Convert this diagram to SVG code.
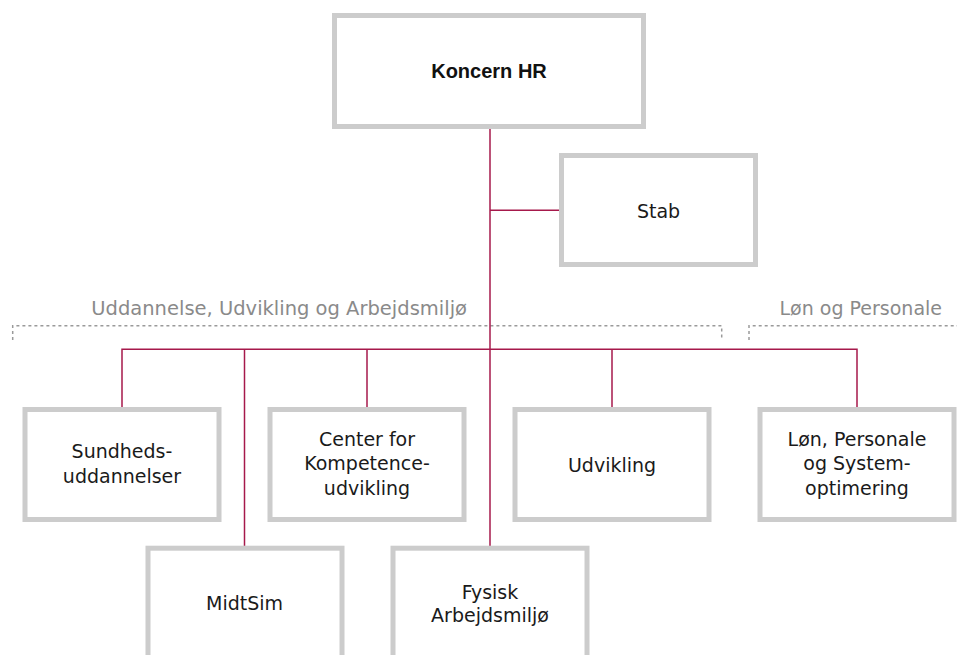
<svg xmlns="http://www.w3.org/2000/svg" width="957" height="655" viewBox="0 0 957 655">
<style>
.box{fill:#fff;stroke:#cccccc;stroke-width:5}
.t{font-family:"DejaVu Sans",sans-serif;font-size:19px;fill:#1a1a1a;text-anchor:middle}
.tb{font-family:"Liberation Sans",Arial,sans-serif;font-size:20px;font-weight:bold;fill:#111;text-anchor:middle}
.lbl{font-family:"DejaVu Sans",sans-serif;font-size:19.5px;fill:#8a8a8a;text-anchor:end}
.c{fill:none;stroke:#a6194b;stroke-width:1.5}
.d{fill:none;stroke:#9a9a9a;stroke-width:1.5;stroke-dasharray:3 3}
</style>
<rect width="957" height="655" fill="#fff"/>
<g id="groups">
<path class="d" d="M12.7 340 V325.7 H721.7 V340"/>
<path class="d" d="M749 340 V325.7 H957"/>
<text class="lbl" x="467" y="315">Uddannelse, Udvikling og Arbejdsmiljø</text>
<text class="lbl" x="942" y="315" style="font-size:19px">Løn og Personale</text>
</g>
<g id="connectors">
<path class="c" d="M490 129 V546"/>
<path class="c" d="M490 210.3 H559"/>
<path class="c" d="M122 407 V349.3 H857 V407"/>
<path class="c" d="M244.5 349.3 V546"/>
<path class="c" d="M367 349.3 V407"/>
<path class="c" d="M612 349.3 V407"/>
</g>
<g id="koncern-hr">
<rect class="box" x="334.5" y="15.5" width="309" height="111"/>
<text class="tb" x="489" y="78">Koncern HR</text>
</g>
<g id="stab">
<rect class="box" x="561.5" y="155.5" width="194" height="109"/>
<text class="t" x="658.5" y="218">Stab</text>
</g>
<g id="sundhedsuddannelser">
<rect class="box" x="25" y="409.5" width="194" height="110"/>
<text class="t" x="122" y="458">Sundheds-</text>
<text class="t" x="122" y="482.5">uddannelser</text>
</g>
<g id="center-for-kompetenceudvikling">
<rect class="box" x="270" y="409.5" width="194" height="110"/>
<text class="t" x="367" y="446">Center for</text>
<text class="t" x="367" y="470">Kompetence-</text>
<text class="t" x="367" y="494.5">udvikling</text>
</g>
<g id="udvikling">
<rect class="box" x="515" y="409.5" width="194" height="110"/>
<text class="t" x="612" y="471.5">Udvikling</text>
</g>
<g id="loen-personale">
<rect class="box" x="760" y="409.5" width="194" height="110"/>
<text class="t" x="857" y="446">Løn, Personale</text>
<text class="t" x="857" y="470">og System-</text>
<text class="t" x="857" y="494.5">optimering</text>
</g>
<g id="midtsim">
<rect class="box" x="148" y="548.2" width="194" height="130"/>
<text class="t" x="244.5" y="610">MidtSim</text>
</g>
<g id="fysisk-arbejdsmiljoe">
<rect class="box" x="393" y="548.2" width="194" height="130"/>
<text class="t" x="490" y="598.5">Fysisk</text>
<text class="t" x="490" y="622">Arbejdsmiljø</text>
</g>
</svg>
